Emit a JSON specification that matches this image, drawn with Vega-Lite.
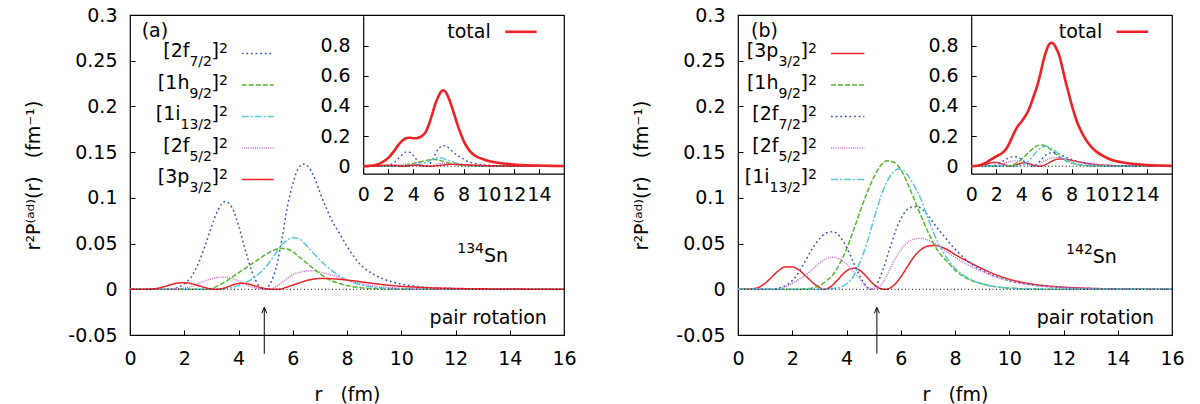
{
  "$schema": "https://vega.github.io/schema/vega-lite/v6.json",
  "background": "white",
  "padding": {"left": 24, "top": 5, "right": 5, "bottom": 5},
  "datasets": {
    "curvesA": [
      {"s":"2f7/2","r":0,"v":0},{"s":"2f7/2","r":1,"v":0},{"s":"2f7/2","r":1.5,"v":0},{"s":"2f7/2","r":1.75,"v":0.002},{"s":"2f7/2","r":2,"v":0.006},{"s":"2f7/2","r":2.25,"v":0.013},{"s":"2f7/2","r":2.5,"v":0.027},{"s":"2f7/2","r":2.75,"v":0.046},{"s":"2f7/2","r":3,"v":0.068},{"s":"2f7/2","r":3.25,"v":0.087},{"s":"2f7/2","r":3.5,"v":0.096},{"s":"2f7/2","r":3.75,"v":0.09},{"s":"2f7/2","r":4,"v":0.07},{"s":"2f7/2","r":4.25,"v":0.043},{"s":"2f7/2","r":4.5,"v":0.019},{"s":"2f7/2","r":4.75,"v":0.004},{"s":"2f7/2","r":4.95,"v":0},{"s":"2f7/2","r":5.2,"v":0.008},{"s":"2f7/2","r":5.4,"v":0.025},{"s":"2f7/2","r":5.6,"v":0.055},{"s":"2f7/2","r":5.8,"v":0.09},{"s":"2f7/2","r":6,"v":0.115},{"s":"2f7/2","r":6.2,"v":0.132},{"s":"2f7/2","r":6.4,"v":0.137},{"s":"2f7/2","r":6.6,"v":0.133},{"s":"2f7/2","r":6.8,"v":0.122},{"s":"2f7/2","r":7,"v":0.106},{"s":"2f7/2","r":7.25,"v":0.088},{"s":"2f7/2","r":7.5,"v":0.072},{"s":"2f7/2","r":7.75,"v":0.06},{"s":"2f7/2","r":8,"v":0.047},{"s":"2f7/2","r":8.25,"v":0.036},{"s":"2f7/2","r":8.5,"v":0.027},{"s":"2f7/2","r":9,"v":0.016},{"s":"2f7/2","r":9.5,"v":0.0095},{"s":"2f7/2","r":10,"v":0.0057},{"s":"2f7/2","r":10.5,"v":0.0034},{"s":"2f7/2","r":11,"v":0.002},{"s":"2f7/2","r":12,"v":0.0007},{"s":"2f7/2","r":13,"v":0.0002},{"s":"2f7/2","r":14,"v":0},{"s":"2f7/2","r":16,"v":0},
      {"s":"1h9/2","r":0,"v":0},{"s":"1h9/2","r":2.75,"v":0},{"s":"1h9/2","r":3,"v":0.001},{"s":"1h9/2","r":3.25,"v":0.004},{"s":"1h9/2","r":3.5,"v":0.008},{"s":"1h9/2","r":3.75,"v":0.013},{"s":"1h9/2","r":4,"v":0.018},{"s":"1h9/2","r":4.25,"v":0.023},{"s":"1h9/2","r":4.5,"v":0.028},{"s":"1h9/2","r":4.75,"v":0.033},{"s":"1h9/2","r":5,"v":0.038},{"s":"1h9/2","r":5.25,"v":0.042},{"s":"1h9/2","r":5.5,"v":0.0445},{"s":"1h9/2","r":5.75,"v":0.0445},{"s":"1h9/2","r":6,"v":0.041},{"s":"1h9/2","r":6.25,"v":0.035},{"s":"1h9/2","r":6.5,"v":0.029},{"s":"1h9/2","r":6.75,"v":0.023},{"s":"1h9/2","r":7,"v":0.017},{"s":"1h9/2","r":7.25,"v":0.012},{"s":"1h9/2","r":7.5,"v":0.0085},{"s":"1h9/2","r":7.75,"v":0.006},{"s":"1h9/2","r":8,"v":0.004},{"s":"1h9/2","r":8.5,"v":0.0018},{"s":"1h9/2","r":9,"v":0.0008},{"s":"1h9/2","r":10,"v":0.0001},{"s":"1h9/2","r":11,"v":0},{"s":"1h9/2","r":16,"v":0},
      {"s":"1i13/2","r":0,"v":0},{"s":"1i13/2","r":3.25,"v":0},{"s":"1i13/2","r":3.5,"v":0.001},{"s":"1i13/2","r":3.75,"v":0.002},{"s":"1i13/2","r":4,"v":0.004},{"s":"1i13/2","r":4.25,"v":0.007},{"s":"1i13/2","r":4.5,"v":0.011},{"s":"1i13/2","r":4.75,"v":0.017},{"s":"1i13/2","r":5,"v":0.024},{"s":"1i13/2","r":5.25,"v":0.034},{"s":"1i13/2","r":5.5,"v":0.045},{"s":"1i13/2","r":5.75,"v":0.053},{"s":"1i13/2","r":6,"v":0.0565},{"s":"1i13/2","r":6.25,"v":0.055},{"s":"1i13/2","r":6.5,"v":0.048},{"s":"1i13/2","r":6.75,"v":0.04},{"s":"1i13/2","r":7,"v":0.032},{"s":"1i13/2","r":7.25,"v":0.025},{"s":"1i13/2","r":7.5,"v":0.019},{"s":"1i13/2","r":7.75,"v":0.014},{"s":"1i13/2","r":8,"v":0.01},{"s":"1i13/2","r":8.5,"v":0.005},{"s":"1i13/2","r":9,"v":0.0022},{"s":"1i13/2","r":9.5,"v":0.001},{"s":"1i13/2","r":10,"v":0.0004},{"s":"1i13/2","r":11,"v":0},{"s":"1i13/2","r":16,"v":0},
      {"s":"2f5/2","r":0,"v":0},{"s":"2f5/2","r":1.5,"v":0},{"s":"2f5/2","r":1.75,"v":0.0005},{"s":"2f5/2","r":2,"v":0.0015},{"s":"2f5/2","r":2.25,"v":0.003},{"s":"2f5/2","r":2.5,"v":0.006},{"s":"2f5/2","r":2.75,"v":0.009},{"s":"2f5/2","r":3,"v":0.0115},{"s":"2f5/2","r":3.25,"v":0.013},{"s":"2f5/2","r":3.5,"v":0.0131},{"s":"2f5/2","r":3.75,"v":0.012},{"s":"2f5/2","r":4,"v":0.009},{"s":"2f5/2","r":4.25,"v":0.0055},{"s":"2f5/2","r":4.5,"v":0.0025},{"s":"2f5/2","r":4.75,"v":0.0006},{"s":"2f5/2","r":5,"v":0},{"s":"2f5/2","r":5.25,"v":0.001},{"s":"2f5/2","r":5.5,"v":0.005},{"s":"2f5/2","r":5.75,"v":0.011},{"s":"2f5/2","r":6,"v":0.016},{"s":"2f5/2","r":6.25,"v":0.0185},{"s":"2f5/2","r":6.5,"v":0.02},{"s":"2f5/2","r":6.75,"v":0.0204},{"s":"2f5/2","r":7,"v":0.019},{"s":"2f5/2","r":7.5,"v":0.015},{"s":"2f5/2","r":8,"v":0.01},{"s":"2f5/2","r":8.5,"v":0.0062},{"s":"2f5/2","r":9,"v":0.0037},{"s":"2f5/2","r":9.5,"v":0.002},{"s":"2f5/2","r":10,"v":0.0011},{"s":"2f5/2","r":11,"v":0.0003},{"s":"2f5/2","r":12,"v":0},{"s":"2f5/2","r":16,"v":0},
      {"s":"3p3/2","r":0,"v":0},{"s":"3p3/2","r":0.5,"v":0},{"s":"3p3/2","r":0.75,"v":0.0003},{"s":"3p3/2","r":1,"v":0.001},{"s":"3p3/2","r":1.25,"v":0.0028},{"s":"3p3/2","r":1.5,"v":0.005},{"s":"3p3/2","r":1.75,"v":0.0068},{"s":"3p3/2","r":2,"v":0.0072},{"s":"3p3/2","r":2.25,"v":0.0062},{"s":"3p3/2","r":2.5,"v":0.0042},{"s":"3p3/2","r":2.75,"v":0.002},{"s":"3p3/2","r":3,"v":0.0004},{"s":"3p3/2","r":3.15,"v":0},{"s":"3p3/2","r":3.4,"v":0.0008},{"s":"3p3/2","r":3.65,"v":0.0032},{"s":"3p3/2","r":3.9,"v":0.0058},{"s":"3p3/2","r":4.15,"v":0.0066},{"s":"3p3/2","r":4.4,"v":0.0055},{"s":"3p3/2","r":4.65,"v":0.0033},{"s":"3p3/2","r":4.9,"v":0.0013},{"s":"3p3/2","r":5.2,"v":0.0001},{"s":"3p3/2","r":5.45,"v":0},{"s":"3p3/2","r":5.75,"v":0.002},{"s":"3p3/2","r":6,"v":0.0045},{"s":"3p3/2","r":6.25,"v":0.007},{"s":"3p3/2","r":6.5,"v":0.0095},{"s":"3p3/2","r":6.75,"v":0.011},{"s":"3p3/2","r":7,"v":0.0118},{"s":"3p3/2","r":7.25,"v":0.0118},{"s":"3p3/2","r":7.5,"v":0.0114},{"s":"3p3/2","r":8,"v":0.0101},{"s":"3p3/2","r":8.5,"v":0.0082},{"s":"3p3/2","r":9,"v":0.0062},{"s":"3p3/2","r":9.5,"v":0.0045},{"s":"3p3/2","r":10,"v":0.0032},{"s":"3p3/2","r":10.5,"v":0.0024},{"s":"3p3/2","r":11,"v":0.0017},{"s":"3p3/2","r":12,"v":0.0009},{"s":"3p3/2","r":13,"v":0.0005},{"s":"3p3/2","r":14,"v":0.0003},{"s":"3p3/2","r":15,"v":0.0001},{"s":"3p3/2","r":16,"v":0},
      {"s":"total","r":0,"v":0},{"s":"total","r":0.5,"v":0.002},{"s":"total","r":1,"v":0.008},{"s":"total","r":1.5,"v":0.025},{"s":"total","r":2,"v":0.055},{"s":"total","r":2.5,"v":0.105},{"s":"total","r":2.75,"v":0.135},{"s":"total","r":3,"v":0.16},{"s":"total","r":3.25,"v":0.178},{"s":"total","r":3.5,"v":0.187},{"s":"total","r":3.75,"v":0.189},{"s":"total","r":4,"v":0.186},{"s":"total","r":4.25,"v":0.186},{"s":"total","r":4.5,"v":0.192},{"s":"total","r":4.75,"v":0.205},{"s":"total","r":5,"v":0.23},{"s":"total","r":5.25,"v":0.28},{"s":"total","r":5.5,"v":0.345},{"s":"total","r":5.75,"v":0.415},{"s":"total","r":6,"v":0.465},{"s":"total","r":6.2,"v":0.495},{"s":"total","r":6.4,"v":0.505},{"s":"total","r":6.6,"v":0.49},{"s":"total","r":6.8,"v":0.455},{"s":"total","r":7,"v":0.41},{"s":"total","r":7.25,"v":0.345},{"s":"total","r":7.5,"v":0.28},{"s":"total","r":7.75,"v":0.22},{"s":"total","r":8,"v":0.168},{"s":"total","r":8.5,"v":0.1},{"s":"total","r":9,"v":0.065},{"s":"total","r":9.5,"v":0.048},{"s":"total","r":10,"v":0.034},{"s":"total","r":10.5,"v":0.026},{"s":"total","r":11,"v":0.02},{"s":"total","r":12,"v":0.011},{"s":"total","r":13,"v":0.006},{"s":"total","r":14,"v":0.004},{"s":"total","r":15,"v":0.002},{"s":"total","r":16,"v":0.001}
    ],
    "curvesB": [
      {"s":"3p3/2","r":0,"v":0},{"s":"3p3/2","r":0.5,"v":0.0005},{"s":"3p3/2","r":0.75,"v":0.002},{"s":"3p3/2","r":1,"v":0.0065},{"s":"3p3/2","r":1.25,"v":0.0135},{"s":"3p3/2","r":1.5,"v":0.0205},{"s":"3p3/2","r":1.75,"v":0.0245},{"s":"3p3/2","r":2,"v":0.0245},{"s":"3p3/2","r":2.25,"v":0.021},{"s":"3p3/2","r":2.5,"v":0.0145},{"s":"3p3/2","r":2.75,"v":0.0075},{"s":"3p3/2","r":3,"v":0.0018},{"s":"3p3/2","r":3.15,"v":0},{"s":"3p3/2","r":3.4,"v":0.0025},{"s":"3p3/2","r":3.65,"v":0.0095},{"s":"3p3/2","r":3.9,"v":0.0175},{"s":"3p3/2","r":4.15,"v":0.0225},{"s":"3p3/2","r":4.3,"v":0.023},{"s":"3p3/2","r":4.5,"v":0.0205},{"s":"3p3/2","r":4.75,"v":0.0135},{"s":"3p3/2","r":5,"v":0.0055},{"s":"3p3/2","r":5.25,"v":0.0008},{"s":"3p3/2","r":5.45,"v":0},{"s":"3p3/2","r":5.75,"v":0.0045},{"s":"3p3/2","r":6,"v":0.0135},{"s":"3p3/2","r":6.25,"v":0.025},{"s":"3p3/2","r":6.5,"v":0.036},{"s":"3p3/2","r":6.75,"v":0.0435},{"s":"3p3/2","r":7,"v":0.0473},{"s":"3p3/2","r":7.25,"v":0.0478},{"s":"3p3/2","r":7.5,"v":0.0463},{"s":"3p3/2","r":7.75,"v":0.0428},{"s":"3p3/2","r":8,"v":0.038},{"s":"3p3/2","r":8.5,"v":0.03},{"s":"3p3/2","r":9,"v":0.0225},{"s":"3p3/2","r":9.5,"v":0.016},{"s":"3p3/2","r":10,"v":0.011},{"s":"3p3/2","r":10.5,"v":0.0075},{"s":"3p3/2","r":11,"v":0.005},{"s":"3p3/2","r":11.5,"v":0.0034},{"s":"3p3/2","r":12,"v":0.0023},{"s":"3p3/2","r":13,"v":0.001},{"s":"3p3/2","r":14,"v":0.0004},{"s":"3p3/2","r":15,"v":0.0002},{"s":"3p3/2","r":16,"v":0.0001},
      {"s":"1h9/2","r":0,"v":0},{"s":"1h9/2","r":2.25,"v":0},{"s":"1h9/2","r":2.5,"v":0.0005},{"s":"1h9/2","r":2.75,"v":0.0015},{"s":"1h9/2","r":3,"v":0.004},{"s":"1h9/2","r":3.25,"v":0.009},{"s":"1h9/2","r":3.5,"v":0.016},{"s":"1h9/2","r":3.75,"v":0.028},{"s":"1h9/2","r":4,"v":0.044},{"s":"1h9/2","r":4.25,"v":0.064},{"s":"1h9/2","r":4.5,"v":0.085},{"s":"1h9/2","r":4.75,"v":0.105},{"s":"1h9/2","r":5,"v":0.122},{"s":"1h9/2","r":5.25,"v":0.135},{"s":"1h9/2","r":5.5,"v":0.1405},{"s":"1h9/2","r":5.75,"v":0.139},{"s":"1h9/2","r":6,"v":0.131},{"s":"1h9/2","r":6.25,"v":0.116},{"s":"1h9/2","r":6.5,"v":0.098},{"s":"1h9/2","r":6.75,"v":0.08},{"s":"1h9/2","r":7,"v":0.063},{"s":"1h9/2","r":7.25,"v":0.048},{"s":"1h9/2","r":7.5,"v":0.037},{"s":"1h9/2","r":7.75,"v":0.029},{"s":"1h9/2","r":8,"v":0.021},{"s":"1h9/2","r":8.5,"v":0.011},{"s":"1h9/2","r":9,"v":0.006},{"s":"1h9/2","r":9.5,"v":0.0028},{"s":"1h9/2","r":10,"v":0.0012},{"s":"1h9/2","r":11,"v":0.0002},{"s":"1h9/2","r":12,"v":0},{"s":"1h9/2","r":16,"v":0},
      {"s":"2f7/2","r":0,"v":0},{"s":"2f7/2","r":1.25,"v":0},{"s":"2f7/2","r":1.5,"v":0.0015},{"s":"2f7/2","r":1.75,"v":0.004},{"s":"2f7/2","r":2,"v":0.0095},{"s":"2f7/2","r":2.25,"v":0.019},{"s":"2f7/2","r":2.5,"v":0.032},{"s":"2f7/2","r":2.75,"v":0.045},{"s":"2f7/2","r":3,"v":0.055},{"s":"2f7/2","r":3.25,"v":0.0615},{"s":"2f7/2","r":3.5,"v":0.063},{"s":"2f7/2","r":3.75,"v":0.058},{"s":"2f7/2","r":4,"v":0.046},{"s":"2f7/2","r":4.25,"v":0.03},{"s":"2f7/2","r":4.5,"v":0.014},{"s":"2f7/2","r":4.75,"v":0.003},{"s":"2f7/2","r":4.9,"v":0},{"s":"2f7/2","r":5.1,"v":0.005},{"s":"2f7/2","r":5.35,"v":0.022},{"s":"2f7/2","r":5.6,"v":0.045},{"s":"2f7/2","r":5.85,"v":0.067},{"s":"2f7/2","r":6.1,"v":0.082},{"s":"2f7/2","r":6.35,"v":0.0895},{"s":"2f7/2","r":6.6,"v":0.0905},{"s":"2f7/2","r":6.85,"v":0.086},{"s":"2f7/2","r":7.1,"v":0.077},{"s":"2f7/2","r":7.35,"v":0.067},{"s":"2f7/2","r":7.6,"v":0.058},{"s":"2f7/2","r":7.85,"v":0.049},{"s":"2f7/2","r":8.1,"v":0.041},{"s":"2f7/2","r":8.5,"v":0.03},{"s":"2f7/2","r":9,"v":0.0205},{"s":"2f7/2","r":9.5,"v":0.014},{"s":"2f7/2","r":10,"v":0.0093},{"s":"2f7/2","r":10.5,"v":0.0063},{"s":"2f7/2","r":11,"v":0.0042},{"s":"2f7/2","r":11.5,"v":0.0028},{"s":"2f7/2","r":12,"v":0.0018},{"s":"2f7/2","r":13,"v":0.0008},{"s":"2f7/2","r":14,"v":0.0003},{"s":"2f7/2","r":15,"v":0.0001},{"s":"2f7/2","r":16,"v":0},
      {"s":"2f5/2","r":0,"v":0},{"s":"2f5/2","r":1.25,"v":0},{"s":"2f5/2","r":1.5,"v":0.001},{"s":"2f5/2","r":1.75,"v":0.003},{"s":"2f5/2","r":2,"v":0.0065},{"s":"2f5/2","r":2.25,"v":0.011},{"s":"2f5/2","r":2.5,"v":0.0155},{"s":"2f5/2","r":2.75,"v":0.022},{"s":"2f5/2","r":3,"v":0.0285},{"s":"2f5/2","r":3.25,"v":0.0335},{"s":"2f5/2","r":3.5,"v":0.035},{"s":"2f5/2","r":3.75,"v":0.033},{"s":"2f5/2","r":4,"v":0.0275},{"s":"2f5/2","r":4.25,"v":0.0195},{"s":"2f5/2","r":4.5,"v":0.011},{"s":"2f5/2","r":4.75,"v":0.002},{"s":"2f5/2","r":4.85,"v":0},{"s":"2f5/2","r":5,"v":0.0008},{"s":"2f5/2","r":5.25,"v":0.004},{"s":"2f5/2","r":5.5,"v":0.016},{"s":"2f5/2","r":5.75,"v":0.031},{"s":"2f5/2","r":6,"v":0.043},{"s":"2f5/2","r":6.25,"v":0.051},{"s":"2f5/2","r":6.5,"v":0.055},{"s":"2f5/2","r":6.75,"v":0.0558},{"s":"2f5/2","r":7,"v":0.054},{"s":"2f5/2","r":7.25,"v":0.05},{"s":"2f5/2","r":7.5,"v":0.045},{"s":"2f5/2","r":7.75,"v":0.04},{"s":"2f5/2","r":8,"v":0.035},{"s":"2f5/2","r":8.5,"v":0.0265},{"s":"2f5/2","r":9,"v":0.0195},{"s":"2f5/2","r":9.5,"v":0.0135},{"s":"2f5/2","r":10,"v":0.0093},{"s":"2f5/2","r":10.5,"v":0.0062},{"s":"2f5/2","r":11,"v":0.0041},{"s":"2f5/2","r":11.5,"v":0.0027},{"s":"2f5/2","r":12,"v":0.0018},{"s":"2f5/2","r":13,"v":0.0007},{"s":"2f5/2","r":14,"v":0.0003},{"s":"2f5/2","r":16,"v":0},
      {"s":"1i13/2","r":0,"v":0},{"s":"1i13/2","r":3,"v":0},{"s":"1i13/2","r":3.5,"v":0.001},{"s":"1i13/2","r":3.75,"v":0.002},{"s":"1i13/2","r":4,"v":0.006},{"s":"1i13/2","r":4.25,"v":0.014},{"s":"1i13/2","r":4.5,"v":0.03},{"s":"1i13/2","r":4.75,"v":0.05},{"s":"1i13/2","r":5,"v":0.076},{"s":"1i13/2","r":5.25,"v":0.1},{"s":"1i13/2","r":5.5,"v":0.118},{"s":"1i13/2","r":5.75,"v":0.129},{"s":"1i13/2","r":5.9,"v":0.1315},{"s":"1i13/2","r":6.1,"v":0.13},{"s":"1i13/2","r":6.3,"v":0.123},{"s":"1i13/2","r":6.5,"v":0.113},{"s":"1i13/2","r":6.75,"v":0.098},{"s":"1i13/2","r":7,"v":0.078},{"s":"1i13/2","r":7.25,"v":0.059},{"s":"1i13/2","r":7.5,"v":0.044},{"s":"1i13/2","r":7.75,"v":0.032},{"s":"1i13/2","r":8,"v":0.023},{"s":"1i13/2","r":8.5,"v":0.012},{"s":"1i13/2","r":9,"v":0.0058},{"s":"1i13/2","r":9.5,"v":0.0028},{"s":"1i13/2","r":10,"v":0.0013},{"s":"1i13/2","r":11,"v":0.0003},{"s":"1i13/2","r":12,"v":0},{"s":"1i13/2","r":16,"v":0},
      {"s":"total","r":0,"v":0},{"s":"total","r":0.5,"v":0.003},{"s":"total","r":1,"v":0.016},{"s":"total","r":1.5,"v":0.04},{"s":"total","r":2,"v":0.065},{"s":"total","r":2.5,"v":0.09},{"s":"total","r":2.75,"v":0.11},{"s":"total","r":3,"v":0.145},{"s":"total","r":3.25,"v":0.19},{"s":"total","r":3.5,"v":0.235},{"s":"total","r":3.75,"v":0.27},{"s":"total","r":4,"v":0.295},{"s":"total","r":4.25,"v":0.325},{"s":"total","r":4.5,"v":0.36},{"s":"total","r":4.75,"v":0.41},{"s":"total","r":5,"v":0.47},{"s":"total","r":5.25,"v":0.53},{"s":"total","r":5.5,"v":0.61},{"s":"total","r":5.75,"v":0.7},{"s":"total","r":6,"v":0.77},{"s":"total","r":6.2,"v":0.808},{"s":"total","r":6.4,"v":0.82},{"s":"total","r":6.6,"v":0.81},{"s":"total","r":6.85,"v":0.77},{"s":"total","r":7,"v":0.74},{"s":"total","r":7.25,"v":0.66},{"s":"total","r":7.5,"v":0.57},{"s":"total","r":7.75,"v":0.49},{"s":"total","r":8,"v":0.41},{"s":"total","r":8.25,"v":0.34},{"s":"total","r":8.5,"v":0.28},{"s":"total","r":8.75,"v":0.235},{"s":"total","r":9,"v":0.195},{"s":"total","r":9.5,"v":0.135},{"s":"total","r":10,"v":0.095},{"s":"total","r":10.5,"v":0.068},{"s":"total","r":11,"v":0.048},{"s":"total","r":11.5,"v":0.035},{"s":"total","r":12,"v":0.026},{"s":"total","r":13,"v":0.014},{"s":"total","r":14,"v":0.007},{"s":"total","r":15,"v":0.004},{"s":"total","r":16,"v":0.002}
    ],
    "legendA": [
      {"rank":1,"s":"2f7/2","orb":"[2f","sub":"7/2"},
      {"rank":2,"s":"1h9/2","orb":"[1h","sub":"9/2"},
      {"rank":3,"s":"1i13/2","orb":"[1i","sub":"13/2"},
      {"rank":4,"s":"2f5/2","orb":"[2f","sub":"5/2"},
      {"rank":5,"s":"3p3/2","orb":"[3p","sub":"3/2"}
    ],
    "legendB": [
      {"rank":1,"s":"3p3/2","orb":"[3p","sub":"3/2"},
      {"rank":2,"s":"1h9/2","orb":"[1h","sub":"9/2"},
      {"rank":3,"s":"2f7/2","orb":"[2f","sub":"7/2"},
      {"rank":4,"s":"2f5/2","orb":"[2f","sub":"5/2"},
      {"rank":5,"s":"1i13/2","orb":"[1i","sub":"13/2"}
    ]
  },
  "hconcat": [
    {
      "width": 434, "height": 320,
      "layer": [
        {
          "layer": [
            {
              "data": {"name": "curvesA"},
              "transform": [{"filter": "datum.s !== 'total'"}],
              "mark": {"type": "line", "strokeWidth": 1.5, "interpolate": "monotone"},
              "encoding": {
                "x": {"field": "r", "type": "quantitative", "scale": {"domain": [0, 16], "nice": false, "zero": false},
                  "axis": {"orient": "bottom", "values": [0, 2, 4, 6, 8, 10, 12, 14, 16], "title": "r\u00a0\u00a0\u00a0(fm)", "tickSize": -5, "labelPadding": 19, "titlePadding": 17, "domain": false, "grid": false, "labelFlush": false, "labelOverlap": false}},
                "y": {"field": "v", "type": "quantitative", "scale": {"domain": [-0.05, 0.3], "nice": false, "zero": false},
                  "axis": {"orient": "left", "values": [-0.05, 0, 0.05, 0.1, 0.15, 0.2, 0.25, 0.3], "labelExpr": "replace(format(datum.value, '.2~f'), '\u2212', '-')", "title": "r\u00b2P\u207d\u1d43\u1d48\u207e(r)\u00a0\u00a0\u00a0(fm\u207b\u00b9)", "tickSize": -5, "labelPadding": 18, "titlePadding": 24, "domain": false, "grid": false, "labelOverlap": false}},
                "color": {"field": "s", "type": "nominal", "legend": null,
                  "scale": {"domain": ["2f7/2", "1h9/2", "1i13/2", "2f5/2", "3p3/2", "total"], "range": ["#3556b4", "#52b52c", "#55c5e0", "#c96bc9", "#ec2227", "#ec2227"]}},
                "strokeDash": {"field": "s", "type": "nominal", "legend": null,
                  "scale": {"domain": ["2f7/2", "1h9/2", "1i13/2", "2f5/2", "3p3/2", "total"], "range": [[1.8, 2.8], [5, 2], [7, 2, 2, 2], [1, 1.2], [1, 0], [1, 0]]}}
              }
            },
            {
              "data": {"values": [{}]},
              "mark": {"type": "rule", "color": "#000", "strokeWidth": 1, "strokeDash": [1, 2.5]},
              "encoding": {"y": {"datum": 0, "type": "quantitative"}}
            },
            {
              "data": {"values": [{}]},
              "mark": {"type": "text", "text": "(a)", "align": "left", "baseline": "middle", "fontSize": 19},
              "encoding": {"x": {"datum": 0.43, "type": "quantitative"}, "y": {"datum": 0.2825, "type": "quantitative"}}
            },
            {
              "data": {"values": [{}]},
              "mark": {"type": "text", "text": "Sn", "align": "left", "baseline": "alphabetic", "fontSize": 19},
              "encoding": {"x": {"datum": 13.05, "type": "quantitative"}, "y": {"datum": 0.0302, "type": "quantitative"}}
            },
            {
              "data": {"values": [{}]},
              "mark": {"type": "text", "text": "134", "align": "right", "baseline": "alphabetic", "fontSize": 14, "dy": -9},
              "encoding": {"x": {"datum": 13.05, "type": "quantitative"}, "y": {"datum": 0.0302, "type": "quantitative"}}
            },
            {
              "data": {"values": [{}]},
              "mark": {"type": "text", "text": "pair rotation", "align": "right", "baseline": "alphabetic", "fontSize": 19},
              "encoding": {"x": {"datum": 15.37, "type": "quantitative"}, "y": {"datum": -0.038, "type": "quantitative"}}
            },
            {
              "data": {"values": [{}]},
              "mark": {"type": "rule", "color": "#000", "strokeWidth": 1},
              "encoding": {"x": {"datum": 4.95, "type": "quantitative"}, "y": {"datum": -0.0705, "type": "quantitative"}, "y2": {"datum": -0.0205}}
            },
            {
              "data": {"values": [{}]},
              "mark": {"type": "point", "shape": "M-0.5,1.2L0,0L0.5,1.2", "filled": false, "stroke": "#000", "strokeWidth": 1, "size": 100, "opacity": 1},
              "encoding": {"x": {"datum": 4.95, "type": "quantitative"}, "y": {"datum": -0.0197, "type": "quantitative"}}
            }
          ]
        },
        {
          "data": {"name": "legendA"},
          "encoding": {
            "y": {"field": "rank", "type": "quantitative", "scale": {"domain": [-0.22, 9.94], "reverse": true, "nice": false, "zero": false}, "axis": null}
          },
          "layer": [
            {
              "mark": {"type": "rule", "strokeWidth": 1.5},
              "encoding": {
                "x": {"datum": 4.12, "type": "quantitative", "scale": {"domain": [0, 16], "nice": false, "zero": false}, "axis": null},
                "x2": {"datum": 5.3},
                "color": {"field": "s", "type": "nominal", "legend": null},
                "strokeDash": {"field": "s", "type": "nominal", "legend": null}
              }
            },
            {
              "mark": {"type": "text", "text": "2", "align": "right", "baseline": "alphabetic", "fontSize": 14, "dy": 0},
              "encoding": {"x": {"datum": 3.61, "type": "quantitative", "axis": null}}
            },
            {
              "mark": {"type": "text", "text": "]", "align": "right", "baseline": "alphabetic", "fontSize": 19, "dx": -9, "dy": 4},
              "encoding": {"x": {"datum": 3.61, "type": "quantitative", "axis": null}}
            },
            {
              "mark": {"type": "text", "align": "right", "baseline": "alphabetic", "fontSize": 14, "dx": -16, "dy": 13},
              "encoding": {"x": {"datum": 3.61, "type": "quantitative", "axis": null}, "text": {"field": "sub", "type": "nominal"}}
            },
            {
              "transform": [{"filter": "length(datum.sub) == 3"}],
              "mark": {"type": "text", "align": "right", "baseline": "alphabetic", "fontSize": 19, "dx": -38.5, "dy": 4},
              "encoding": {"x": {"datum": 3.61, "type": "quantitative", "axis": null}, "text": {"field": "orb", "type": "nominal"}}
            },
            {
              "transform": [{"filter": "length(datum.sub) == 4"}],
              "mark": {"type": "text", "align": "right", "baseline": "alphabetic", "fontSize": 19, "dx": -47.4, "dy": 4},
              "encoding": {"x": {"datum": 3.61, "type": "quantitative", "axis": null}, "text": {"field": "orb", "type": "nominal"}}
            }
          ]
        },
        {
          "layer": [
            {
              "data": {"name": "curvesA"},
              "transform": [{"filter": "datum.s !== 'total'"}],
              "mark": {"type": "line", "strokeWidth": 1.4, "interpolate": "monotone"},
              "encoding": {
                "x": {"field": "r", "type": "quantitative", "scale": {"domain": [0, 16], "range": [233.2, 434], "nice": false, "zero": false},
                  "axis": {"orient": "bottom", "offset": -161.3, "values": [0, 2, 4, 6, 8, 10, 12, 14], "title": null, "tickSize": -5, "labelPadding": 17, "labelFlush": false, "labelOverlap": false, "grid": false, "domain": true, "domainColor": "#000", "domainWidth": 1.2}},
                "y": {"field": "v", "type": "quantitative", "scale": {"domain": [-0.05, 1.0], "range": [158.7, 0.7], "nice": false, "zero": false},
                  "axis": {"orient": "left", "offset": -233.2, "values": [0, 0.2, 0.4, 0.6, 0.8], "format": ".1~f", "title": null, "tickSize": -5, "labelPadding": 18, "labelOverlap": false, "grid": false, "domain": true, "domainColor": "#000", "domainWidth": 1.2}},
                "color": {"field": "s", "type": "nominal", "legend": null},
                "strokeDash": {"field": "s", "type": "nominal", "legend": null}
              }
            },
            {
              "data": {"values": [{}]},
              "mark": {"type": "rule", "color": "#000", "strokeWidth": 1, "strokeDash": [1, 2.5]},
              "encoding": {"x": {"datum": 0, "type": "quantitative"}, "x2": {"datum": 16}, "y": {"datum": 0, "type": "quantitative"}}
            },
            {
              "data": {"name": "curvesA"},
              "transform": [{"filter": "datum.s === 'total'"}],
              "mark": {"type": "line", "strokeWidth": 2.6, "interpolate": "monotone", "color": "#ec2227"},
              "encoding": {"x": {"field": "r", "type": "quantitative"}, "y": {"field": "v", "type": "quantitative"}}
            },
            {
              "data": {"values": [{}]},
              "mark": {"type": "text", "text": "total", "align": "right", "baseline": "middle", "fontSize": 19},
              "encoding": {"x": {"datum": 10.16, "type": "quantitative"}, "y": {"datum": 0.893, "type": "quantitative"}}
            },
            {
              "data": {"values": [{}]},
              "mark": {"type": "rule", "color": "#ec2227", "strokeWidth": 2.6},
              "encoding": {"x": {"datum": 11.32, "type": "quantitative"}, "x2": {"datum": 13.82}, "y": {"datum": 0.893, "type": "quantitative"}}
            }
          ]
        }
      ],
      "resolve": {"scale": {"x": "independent", "y": "independent"}}
    },
    {
      "width": 434, "height": 320,
      "layer": [
        {
          "layer": [
            {
              "data": {"name": "curvesB"},
              "transform": [{"filter": "datum.s !== 'total'"}],
              "mark": {"type": "line", "strokeWidth": 1.5, "interpolate": "monotone"},
              "encoding": {
                "x": {"field": "r", "type": "quantitative", "scale": {"domain": [0, 16], "nice": false, "zero": false},
                  "axis": {"orient": "bottom", "values": [0, 2, 4, 6, 8, 10, 12, 14, 16], "title": "r\u00a0\u00a0\u00a0(fm)", "tickSize": -5, "labelPadding": 19, "titlePadding": 17, "domain": false, "grid": false, "labelFlush": false, "labelOverlap": false}},
                "y": {"field": "v", "type": "quantitative", "scale": {"domain": [-0.05, 0.3], "nice": false, "zero": false},
                  "axis": {"orient": "left", "values": [-0.05, 0, 0.05, 0.1, 0.15, 0.2, 0.25, 0.3], "labelExpr": "replace(format(datum.value, '.2~f'), '\u2212', '-')", "title": "r\u00b2P\u207d\u1d43\u1d48\u207e(r)\u00a0\u00a0\u00a0(fm\u207b\u00b9)", "tickSize": -5, "labelPadding": 18, "titlePadding": 24, "domain": false, "grid": false, "labelOverlap": false}},
                "color": {"field": "s", "type": "nominal", "legend": null,
                  "scale": {"domain": ["2f7/2", "1h9/2", "1i13/2", "2f5/2", "3p3/2", "total"], "range": ["#3556b4", "#52b52c", "#55c5e0", "#c96bc9", "#ec2227", "#ec2227"]}},
                "strokeDash": {"field": "s", "type": "nominal", "legend": null,
                  "scale": {"domain": ["2f7/2", "1h9/2", "1i13/2", "2f5/2", "3p3/2", "total"], "range": [[1.8, 2.8], [5, 2], [7, 2, 2, 2], [1, 1.2], [1, 0], [1, 0]]}}
              }
            },
            {
              "data": {"values": [{}]},
              "mark": {"type": "rule", "color": "#000", "strokeWidth": 1, "strokeDash": [1, 2.5]},
              "encoding": {"y": {"datum": 0, "type": "quantitative"}}
            },
            {
              "data": {"values": [{}]},
              "mark": {"type": "text", "text": "(b)", "align": "left", "baseline": "middle", "fontSize": 19},
              "encoding": {"x": {"datum": 0.48, "type": "quantitative"}, "y": {"datum": 0.2825, "type": "quantitative"}}
            },
            {
              "data": {"values": [{}]},
              "mark": {"type": "text", "text": "Sn", "align": "left", "baseline": "alphabetic", "fontSize": 19},
              "encoding": {"x": {"datum": 13.08, "type": "quantitative"}, "y": {"datum": 0.0291, "type": "quantitative"}}
            },
            {
              "data": {"values": [{}]},
              "mark": {"type": "text", "text": "142", "align": "right", "baseline": "alphabetic", "fontSize": 14, "dy": -9},
              "encoding": {"x": {"datum": 13.08, "type": "quantitative"}, "y": {"datum": 0.0291, "type": "quantitative"}}
            },
            {
              "data": {"values": [{}]},
              "mark": {"type": "text", "text": "pair rotation", "align": "right", "baseline": "alphabetic", "fontSize": 19},
              "encoding": {"x": {"datum": 15.34, "type": "quantitative"}, "y": {"datum": -0.038, "type": "quantitative"}}
            },
            {
              "data": {"values": [{}]},
              "mark": {"type": "rule", "color": "#000", "strokeWidth": 1},
              "encoding": {"x": {"datum": 5.12, "type": "quantitative"}, "y": {"datum": -0.0705, "type": "quantitative"}, "y2": {"datum": -0.0205}}
            },
            {
              "data": {"values": [{}]},
              "mark": {"type": "point", "shape": "M-0.5,1.2L0,0L0.5,1.2", "filled": false, "stroke": "#000", "strokeWidth": 1, "size": 100, "opacity": 1},
              "encoding": {"x": {"datum": 5.12, "type": "quantitative"}, "y": {"datum": -0.0197, "type": "quantitative"}}
            }
          ]
        },
        {
          "data": {"name": "legendB"},
          "encoding": {
            "y": {"field": "rank", "type": "quantitative", "scale": {"domain": [-0.22, 9.94], "reverse": true, "nice": false, "zero": false}, "axis": null}
          },
          "layer": [
            {
              "mark": {"type": "rule", "strokeWidth": 1.5},
              "encoding": {
                "x": {"datum": 3.43, "type": "quantitative", "scale": {"domain": [0, 16], "nice": false, "zero": false}, "axis": null},
                "x2": {"datum": 4.66},
                "color": {"field": "s", "type": "nominal", "legend": null},
                "strokeDash": {"field": "s", "type": "nominal", "legend": null}
              }
            },
            {
              "mark": {"type": "text", "text": "2", "align": "right", "baseline": "alphabetic", "fontSize": 14, "dy": 0},
              "encoding": {"x": {"datum": 2.91, "type": "quantitative", "axis": null}}
            },
            {
              "mark": {"type": "text", "text": "]", "align": "right", "baseline": "alphabetic", "fontSize": 19, "dx": -9, "dy": 4},
              "encoding": {"x": {"datum": 2.91, "type": "quantitative", "axis": null}}
            },
            {
              "mark": {"type": "text", "align": "right", "baseline": "alphabetic", "fontSize": 14, "dx": -16, "dy": 13},
              "encoding": {"x": {"datum": 2.91, "type": "quantitative", "axis": null}, "text": {"field": "sub", "type": "nominal"}}
            },
            {
              "transform": [{"filter": "length(datum.sub) == 3"}],
              "mark": {"type": "text", "align": "right", "baseline": "alphabetic", "fontSize": 19, "dx": -38.5, "dy": 4},
              "encoding": {"x": {"datum": 2.91, "type": "quantitative", "axis": null}, "text": {"field": "orb", "type": "nominal"}}
            },
            {
              "transform": [{"filter": "length(datum.sub) == 4"}],
              "mark": {"type": "text", "align": "right", "baseline": "alphabetic", "fontSize": 19, "dx": -47.4, "dy": 4},
              "encoding": {"x": {"datum": 2.91, "type": "quantitative", "axis": null}, "text": {"field": "orb", "type": "nominal"}}
            }
          ]
        },
        {
          "layer": [
            {
              "data": {"name": "curvesB"},
              "transform": [{"filter": "datum.s !== 'total'"}],
              "mark": {"type": "line", "strokeWidth": 1.4, "interpolate": "monotone"},
              "encoding": {
                "x": {"field": "r", "type": "quantitative", "scale": {"domain": [0, 16], "range": [233.2, 434], "nice": false, "zero": false},
                  "axis": {"orient": "bottom", "offset": -161.3, "values": [0, 2, 4, 6, 8, 10, 12, 14], "title": null, "tickSize": -5, "labelPadding": 17, "labelFlush": false, "labelOverlap": false, "grid": false, "domain": true, "domainColor": "#000", "domainWidth": 1.2}},
                "y": {"field": "v", "type": "quantitative", "scale": {"domain": [-0.05, 1.0], "range": [158.7, 0.7], "nice": false, "zero": false},
                  "axis": {"orient": "left", "offset": -233.2, "values": [0, 0.2, 0.4, 0.6, 0.8], "format": ".1~f", "title": null, "tickSize": -5, "labelPadding": 18, "labelOverlap": false, "grid": false, "domain": true, "domainColor": "#000", "domainWidth": 1.2}},
                "color": {"field": "s", "type": "nominal", "legend": null},
                "strokeDash": {"field": "s", "type": "nominal", "legend": null}
              }
            },
            {
              "data": {"values": [{}]},
              "mark": {"type": "rule", "color": "#000", "strokeWidth": 1, "strokeDash": [1, 2.5]},
              "encoding": {"x": {"datum": 0, "type": "quantitative"}, "x2": {"datum": 16}, "y": {"datum": 0, "type": "quantitative"}}
            },
            {
              "data": {"name": "curvesB"},
              "transform": [{"filter": "datum.s === 'total'"}],
              "mark": {"type": "line", "strokeWidth": 2.6, "interpolate": "monotone", "color": "#ec2227"},
              "encoding": {"x": {"field": "r", "type": "quantitative"}, "y": {"field": "v", "type": "quantitative"}}
            },
            {
              "data": {"values": [{}]},
              "mark": {"type": "text", "text": "total", "align": "right", "baseline": "middle", "fontSize": 19},
              "encoding": {"x": {"datum": 10.44, "type": "quantitative"}, "y": {"datum": 0.893, "type": "quantitative"}}
            },
            {
              "data": {"values": [{}]},
              "mark": {"type": "rule", "color": "#ec2227", "strokeWidth": 2.6},
              "encoding": {"x": {"datum": 11.58, "type": "quantitative"}, "x2": {"datum": 14.1}, "y": {"datum": 0.893, "type": "quantitative"}}
            }
          ]
        }
      ],
      "resolve": {"scale": {"x": "independent", "y": "independent"}}
    }
  ],
  "spacing": 55,
  "config": {
    "font": "DejaVu Sans",
    "view": {"stroke": "#000", "strokeWidth": 1.2},
    "text": {"font": "DejaVu Sans", "fontSize": 19, "color": "#000"},
    "axis": {
      "labelFont": "DejaVu Sans", "labelFontSize": 19, "labelColor": "#000",
      "titleFont": "DejaVu Sans", "titleFontSize": 19, "titleFontWeight": "normal", "titleColor": "#000",
      "tickColor": "#000", "tickWidth": 1
    }
  }
}
